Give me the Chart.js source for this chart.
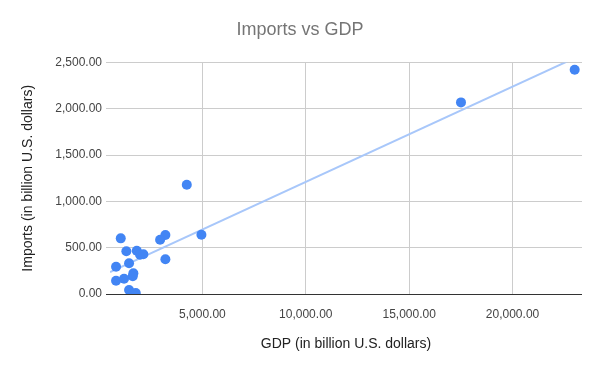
<!DOCTYPE html>
<html>
<head>
<meta charset="utf-8">
<script src="https://cdn.jsdelivr.net/npm/chart.js@4.4.1/dist/chart.umd.min.js"></script>
<style>
  html, body { margin: 0; padding: 0; background: #fff; }
  #wrap { width: 600px; height: 371px; }
</style>
</head>
<body>
<div id="wrap"><canvas id="chart" width="600" height="371"></canvas></div>
<script>
// GDP and imports, in billion U.S. dollars
const gdp = [23006, 17507, 4244, 4952, 3209, 2953, 1050, 1321, 1825, 1985,
             2144, 3209, 1452, 823, 1660, 1631, 823, 1210, 1452, 1776];
const imports = [2422, 2070, 1180, 640, 637, 586, 601, 461, 468, 424,
                 429, 375, 332, 295, 224, 191, 144, 165, 43, 11];
const xTicks = [5000, 10000, 15000, 20000];
const yTicks = [0, 500, 1000, 1500, 2000, 2500];
const xRange = [530, 23360];

// least squares trendline through the points
function linearFit(xs, ys) {
    const n = xs.length;
    const mx = xs.reduce((a, b) => a + b, 0) / n;
    const my = ys.reduce((a, b) => a + b, 0) / n;
    let sxy = 0, sxx = 0;
    xs.forEach((x, i) => {
        sxy += (x - mx) * (ys[i] - my);
        sxx += (x - mx) * (x - mx);
    });
    const slope = sxy / sxx;
    return { slope: slope, intercept: my - slope * mx };
}

const fit = linearFit(gdp, imports);
const trend = xRange.map((x) => ({ x: x, y: fit.intercept + fit.slope * x }));
const points = gdp.map((x, i) => ({ x: x, y: imports[i] }));

const fmt = (v) => v.toLocaleString("en-US", { minimumFractionDigits: 2, maximumFractionDigits: 2 });

Chart.defaults.font.family = "'Liberation Sans', Arial, sans-serif";

new Chart(document.getElementById("chart"), {
    type: "scatter",
    data: {
        datasets: [
            {
                label: "Imports",
                data: points,
                backgroundColor: "#4285f4",
                borderColor: "#4285f4",
                pointRadius: 5,
                pointHoverRadius: 5,
                borderWidth: 0,
                clip: 0,
            },
            {
                label: "Trendline",
                type: "line",
                data: trend,
                borderColor: "#a8c7fa",
                borderWidth: 2,
                pointRadius: 0,
                fill: false,
                clip: 0,
            },
        ],
    },
    options: {
        responsive: false,
        animation: false,
        layout: { padding: { left: 18, right: 18, top: 0, bottom: 0 } },
        plugins: {
            legend: { display: false },
            tooltip: { enabled: false },
            title: {
                display: true,
                text: "Imports vs GDP",
                color: "#757575",
                font: { size: 18, weight: "normal" },
                padding: { top: 19, bottom: 22 },
            },
        },
        scales: {
            x: {
                type: "linear",
                min: xRange[0],
                max: xRange[1],
                afterBuildTicks: (scale) => {
                    scale.ticks = xTicks.map((v) => ({ value: v }));
                },
                afterFit: (scale) => { scale.height = 77; },
                ticks: {
                    color: "#444",
                    font: { size: 12 },
                    padding: 13,
                    maxRotation: 0,
                    callback: (v) => fmt(v),
                },
                grid: { color: "#cccccc", drawTicks: false },
                border: { display: false },
                title: {
                    display: true,
                    text: "GDP (in billion U.S. dollars)",
                    color: "#222",
                    font: { size: 14 },
                    padding: { top: 0, bottom: 18 },
                },
            },
            y: {
                min: 0,
                max: 2500,
                afterBuildTicks: (scale) => {
                    scale.ticks = yTicks.map((v) => ({ value: v }));
                },
                afterFit: (scale) => { scale.width = 92; },
                ticks: {
                    color: "#444",
                    font: { size: 12 },
                    padding: 4,
                    callback: (v) => fmt(v),
                },
                grid: {
                    color: (ctx) => (ctx.tick && ctx.tick.value === 0 ? "#333333" : "#cccccc"),
                    tickLength: 4,
                },
                border: { display: false },
                title: {
                    display: true,
                    text: "Imports (in billion U.S. dollars)",
                    color: "#222",
                    font: { size: 14 },
                    padding: { top: 2, bottom: 0 },
                },
            },
        },
    },
});
</script>
</body>
</html>
